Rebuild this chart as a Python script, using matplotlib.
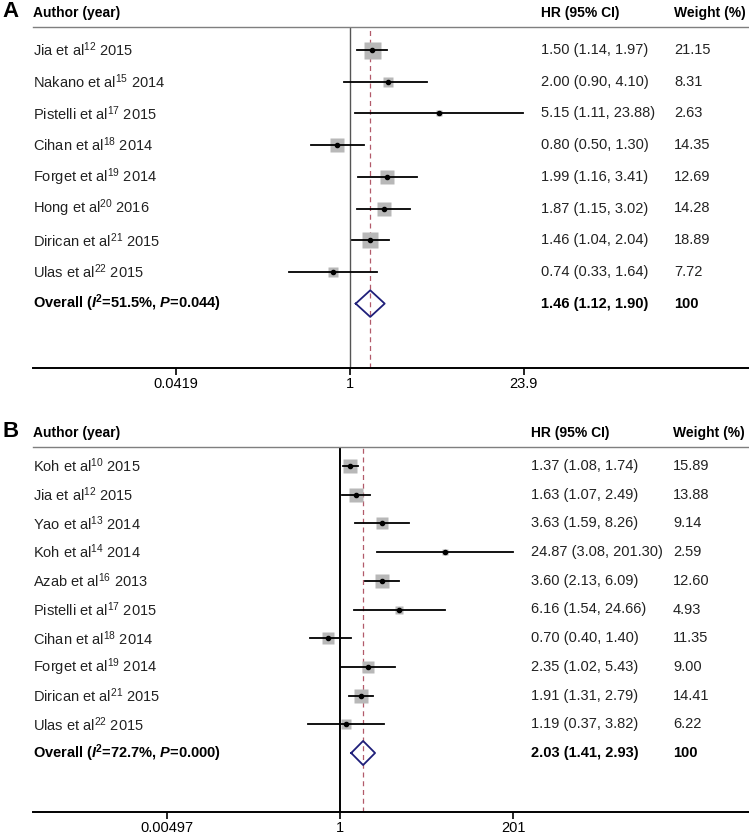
import numpy as np
import matplotlib
matplotlib.use('Agg')
import matplotlib.pyplot as plt
import matplotlib.transforms as mtransforms

plt.rcParams['font.family'] = ['Liberation Sans', 'DejaVu Sans']
plt.rcParams['mathtext.fontset'] = 'custom'
plt.rcParams['mathtext.rm'] = 'Liberation Sans'
plt.rcParams['mathtext.it'] = 'Liberation Sans:italic'
plt.rcParams['mathtext.bf'] = 'Liberation Sans:bold'
plt.rcParams['mathtext.bfit'] = 'Liberation Sans:italic:bold'

# Panel A data
a_authors = ['Jia', 'Nakano', 'Pistelli', 'Cihan', 'Forget', 'Hong', 'Dirican', 'Ulas']
a_refs = ['12', '15', '17', '18', '19', '20', '21', '22']
a_years = ['2015', '2014', '2015', '2014', '2014', '2016', '2015', '2015']
a_hr = [1.50, 2.00, 5.15, 0.80, 1.99, 1.87, 1.46, 0.74]
a_lo = [1.14, 0.90, 1.11, 0.50, 1.16, 1.15, 1.04, 0.33]
a_hi = [1.97, 4.10, 23.88, 1.30, 3.41, 3.02, 2.04, 1.64]
a_weight = ['21.15', '8.31', '2.63', '14.35', '12.69', '14.28', '18.89', '7.72']
a_overall = [1.46, 1.12, 1.90]
a_i2 = '51.5'
a_p = '0.044'
a_ticks = [0.0419, 1, 23.9]
a_ticklabels = ['0.0419', '1', '23.9']

# Panel B data
b_authors = ['Koh', 'Jia', 'Yao', 'Koh', 'Azab', 'Pistelli', 'Cihan', 'Forget', 'Dirican', 'Ulas']
b_refs = ['10', '12', '13', '14', '16', '17', '18', '19', '21', '22']
b_years = ['2015', '2015', '2014', '2014', '2013', '2015', '2014', '2014', '2015', '2015']
b_hr = [1.37, 1.63, 3.63, 24.87, 3.60, 6.16, 0.70, 2.35, 1.91, 1.19]
b_lo = [1.08, 1.07, 1.59, 3.08, 2.13, 1.54, 0.40, 1.02, 1.31, 0.37]
b_hi = [1.74, 2.49, 8.26, 201.30, 6.09, 24.66, 1.40, 5.43, 2.79, 3.82]
b_weight = ['15.89', '13.88', '9.14', '2.59', '12.60', '4.93', '11.35', '9.00', '14.41', '6.22']
b_overall = [2.03, 1.41, 2.93]
b_i2 = '72.7'
b_p = '0.000'
b_ticks = [0.00497, 1, 201]
b_ticklabels = ['0.00497', '1', '201']

W, H = 749, 835
fig = plt.figure(figsize=(W / 100, H / 100), dpi=100)
FS = 10.5
HFS = 10


def panel(letter, authors, refs, years, hr, lo, hi, weight, overall, i2, p,
          ticks, ticklabels, top_px, bot_px, row0_px, step_px, one_px, span_px,
          hr_px, wt_px, nullcolor, nulllw):
    left_px = 33
    ax = fig.add_axes([left_px / W, 1 - bot_px / H, (W - left_px) / W, (bot_px - top_px) / H])
    n = len(authors)
    ax.set_xscale('log')
    L = np.log(ticks[-1])
    ax.set_xlim(np.exp((left_px - one_px) / span_px * L), np.exp((W - one_px) / span_px * L))
    ax.set_ylim((bot_px - row0_px) / step_px, (top_px - row0_px) / step_px)
    for s in ['left', 'right']:
        ax.spines[s].set_visible(False)
    ax.spines['top'].set_color('#7f7f7f')
    ax.spines['top'].set_linewidth(1.0)
    ax.spines['bottom'].set_linewidth(1.4)
    ax.set_yticks([])
    ax.set_xticks(ticks)
    ax.set_xticklabels(ticklabels, fontsize=FS)
    ax.xaxis.set_minor_locator(plt.NullLocator())
    ax.tick_params(axis='x', length=5, width=1.2, pad=1.5)

    ax.axvline(1, color=nullcolor, lw=nulllw, zorder=1)
    ax.axvline(overall[0], color='#b25a6a', lw=0.9, ls=(0, (4, 3)), zorder=1)

    for i in range(n):
        side = 17 * np.sqrt(float(weight[i]) / 21.15) * 0.72
        ax.plot([lo[i], hi[i]], [i, i], color='black', lw=1.3, zorder=3)
        ax.plot(hr[i], i, marker='s', ms=side, color='#b8b8b8', mec='none', zorder=2)
        ax.plot(hr[i], i, marker='o', ms=3, color='black', zorder=4)

    hy = 0.42
    dx = [overall[1], overall[0], overall[2], overall[0], overall[1]]
    dy = [n, n - hy, n, n + hy, n]
    ax.plot(dx, dy, color='#1f1f7a', lw=1.3, zorder=4)

    tr = mtransforms.blended_transform_factory(fig.transFigure, ax.transData)
    for i in range(n):
        ax.text(left_px / W, i, f'{authors[i]} et al$^{{{refs[i]}}}$ {years[i]}',
                transform=tr, fontsize=FS, va='center', ha='left', color='#222222')
        ax.text(hr_px / W, i, f'{hr[i]:.2f} ({lo[i]:.2f}, {hi[i]:.2f})',
                transform=tr, fontsize=FS, va='center', ha='left', color='#222222')
        ax.text(wt_px / W, i, weight[i],
                transform=tr, fontsize=FS, va='center', ha='left', color='#222222')
    ax.text(left_px / W, n,
            rf'Overall ($\mathbfit{{I}}^{{\mathbf{{2}}}}$={i2}%, $\mathbfit{{P}}$={p})',
            transform=tr, fontsize=FS, va='center', ha='left', fontweight='bold')
    ax.text(hr_px / W, n, f'{overall[0]:.2f} ({overall[1]:.2f}, {overall[2]:.2f})',
            transform=tr, fontsize=FS, va='center', ha='left', fontweight='bold')
    ax.text(wt_px / W, n, '100', transform=tr, fontsize=FS, va='center', ha='left',
            fontweight='bold')

    hdr_y = 1 - (top_px - 14) / H
    fig.text(left_px / W, hdr_y, 'Author (year)', fontsize=HFS, fontweight='bold', va='center')
    fig.text(hr_px / W, hdr_y, 'HR (95% CI)', fontsize=HFS, fontweight='bold', va='center')
    fig.text(wt_px / W, hdr_y, 'Weight (%)', fontsize=HFS, fontweight='bold', va='center')
    fig.text(2 / W, hdr_y + 0.002, letter, fontsize=16, fontweight='bold', va='center')
    return ax


panel('A', a_authors, a_refs, a_years, a_hr, a_lo, a_hi, a_weight, a_overall, a_i2, a_p,
      a_ticks, a_ticklabels, top_px=27, bot_px=368, row0_px=50, step_px=31.7,
      one_px=349.5, span_px=174, hr_px=541, wt_px=674, nullcolor='#555555', nulllw=1.0)
panel('B', b_authors, b_refs, b_years, b_hr, b_lo, b_hi, b_weight, b_overall, b_i2, b_p,
      b_ticks, b_ticklabels, top_px=447, bot_px=812, row0_px=466, step_px=28.7,
      one_px=340, span_px=173, hr_px=531, wt_px=673, nullcolor='black', nulllw=1.4)

fig.savefig('out.png', dpi=100)
